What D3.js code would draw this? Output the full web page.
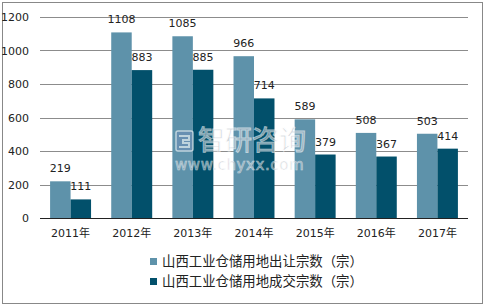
<!DOCTYPE html>
<html>
<head>
<meta charset="utf-8">
<script src="https://cdn.jsdelivr.net/npm/d3@7"></script>
<style>
  body { margin: 0; background: #fff; }
  text { font-family: Tahoma, "DejaVu Sans", "Noto Sans CJK SC", sans-serif; fill: #222; }
</style>
</head>
<body>
<div id="chart"></div>
<script>
// data
const years = ['2011年', '2012年', '2013年', '2014年', '2015年', '2016年', '2017年'];
const supplied = [219, 1108, 1085, 966, 589, 508, 503];
const traded = [111, 883, 885, 714, 379, 367, 414];
const seriesNames = ['山西工业仓储用地出让宗数（宗）', '山西工业仓储用地成交宗数（宗）'];
const yTicks = [0, 200, 400, 600, 800, 1000, 1200];

const colors = ['#5e92aa', '#02506b'];

const width = 485, height = 306;
const margin = { top: 17, left: 40, right: 17, bottom: 88 };
const innerW = width - margin.left - margin.right;
const innerH = height - margin.top - margin.bottom;

const svg = d3.select('#chart').append('svg')
  .attr('width', width)
  .attr('height', height);

// outer border
svg.append('rect')
  .attr('x', 2.5).attr('y', 2.5)
  .attr('width', width - 5).attr('height', height - 5)
  .attr('fill', 'none')
  .attr('stroke', '#888');

const chart = svg.append('g')
  .attr('transform', `translate(${margin.left},${margin.top})`);

const x0 = d3.scaleBand().domain(years).range([0, innerW]).paddingInner(0.33).paddingOuter(0.165);
const x1 = d3.scaleBand().domain([0, 1]).range([0, x0.bandwidth()]);
const y = d3.scaleLinear().domain([0, 1200]).range([innerH, 0]);

// gridlines
chart.append('g')
  .selectAll('line')
  .data(yTicks.filter(d => d > 0))
  .join('line')
  .attr('x1', 0).attr('x2', innerW)
  .attr('y1', d => Math.round(y(d)) + 0.5)
  .attr('y2', d => Math.round(y(d)) + 0.5)
  .attr('stroke', '#8c8c8c');

// y tick labels
const yAxis = d3.axisLeft(y).tickValues(yTicks).tickFormat(d3.format('d')).tickSize(0).tickPadding(11);
const yAxisG = chart.append('g').call(yAxis);
yAxisG.select('.domain').remove();
yAxisG.selectAll('text').style('font-size', '11px').attr('fill', '#222');

// bars
const groups = chart.selectAll('.grp')
  .data(years)
  .join('g')
  .attr('class', 'grp')
  .attr('transform', d => `translate(${x0(d)},0)`);

const vals = [supplied, traded];
groups.each(function (yr, i) {
  const g = d3.select(this);
  [0, 1].forEach(s => {
    const v = vals[s][i];
    g.append('rect')
      .attr('x', x1(s))
      .attr('y', y(v))
      .attr('width', x1.bandwidth())
      .attr('height', innerH - y(v))
      .attr('fill', colors[s]);
  });
});

// watermark
const wm = svg.append('g').attr('opacity', 0.6);
wm.append('rect')
  .attr('x', 176).attr('y', 131).attr('width', 17).attr('height', 20)
  .attr('rx', 2)
  .attr('fill', '#6f8fb8').attr('stroke', '#fff').attr('stroke-width', 1.5);
wm.append('path')
  .attr('d', 'M179,136 h10 v4 h-6 v3 h6 v4 h-10')
  .attr('fill', 'none').attr('stroke', '#fff').attr('stroke-width', 2);
wm.append('text')
  .attr('x', 198).attr('y', 150)
  .style('font-size', '27px')
  .style('font-family', '"Noto Sans CJK SC", sans-serif')
  .style('fill', '#b4bbc4')
  .style('stroke', '#fff').style('stroke-width', '1px')
  .text('智研咨询');
wm.append('text')
  .attr('x', 175).attr('y', 170)
  .style('font-size', '15px')
  .style('font-family', '"DejaVu Sans", sans-serif')
  .style('letter-spacing', '0.6px')
  .style('fill', '#b4bbc4')
  .style('stroke', '#fff').style('stroke-width', '0.6px')
  .text('www.chyxx.com');

// value labels
groups.each(function (yr, i) {
  const g = d3.select(this);
  [0, 1].forEach(s => {
    const v = vals[s][i];
    g.append('text')
      .attr('x', x1(s) + x1.bandwidth() / 2)
      .attr('y', y(v) - 9)
      .attr('text-anchor', 'middle')
      .style('font-size', '11px')
      .text(v);
  });
});

// baseline
chart.append('line')
  .attr('x1', 0).attr('x2', innerW)
  .attr('y1', innerH + 0.5).attr('y2', innerH + 0.5)
  .attr('stroke', '#222');

// x labels
const xAxis = d3.axisBottom(x0).tickSize(0).tickPadding(11);
const xAxisG = chart.append('g')
  .attr('transform', `translate(0,${innerH})`)
  .call(xAxis);
xAxisG.select('.domain').remove();
xAxisG.selectAll('text').style('font-size', '11px').attr('fill', '#222');

// legend
const legend = svg.append('g').attr('transform', 'translate(150,258)');
seriesNames.forEach((name, i) => {
  const row = legend.append('g').attr('transform', `translate(0,${i * 20})`);
  row.append('rect')
    .attr('width', 7).attr('height', 7)
    .attr('y', 0)
    .attr('fill', colors[i]);
  row.append('text')
    .attr('x', 12).attr('y', 8)
    .style('font-size', '13.4px')
    .style('font-family', '"Noto Sans CJK SC", sans-serif')
    .text(name);
});
</script>
</body>
</html>
